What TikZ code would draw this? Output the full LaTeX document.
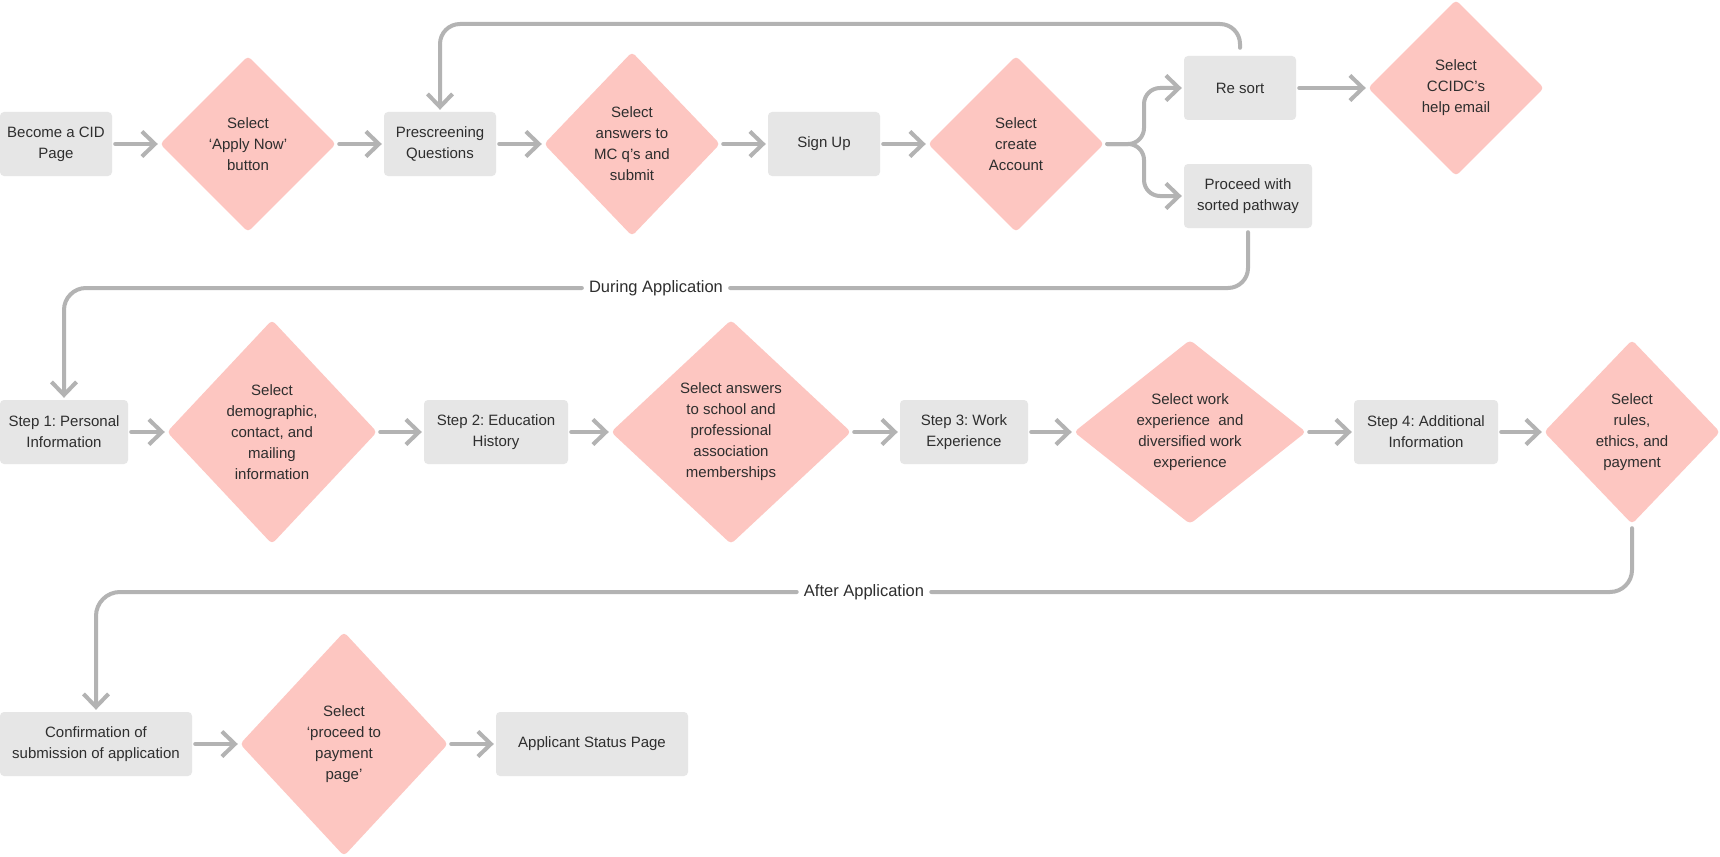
\documentclass[tikz,border=0pt]{standalone}
\usepackage{fontspec}
\setmainfont{Liberation Sans}
\usetikzlibrary{shapes.geometric,arrows.meta,calc}
\definecolor{boxgray}{HTML}{E6E6E6}
\definecolor{pinkd}{HTML}{FDC6C1}
\definecolor{lineg}{HTML}{B3B3B3}
\definecolor{txt}{HTML}{2E2E2E}
\frenchspacing
\begin{document}
\begin{tikzpicture}[x=1pt,y=-1pt,
  every node/.style={text=txt, font=\fontsize{15}{21}\selectfont},
  pbox/.style={rectangle, rounded corners=4pt, fill=boxgray, minimum height=64pt, inner sep=0pt, align=center},
  pdia/.style={diamond, rounded corners=4pt, fill=pinkd, inner sep=0pt, align=center},
  arr/.style={draw=lineg, line width=4pt, line cap=round, line join=round, -{Straight Barb[length=13pt,width=25pt]}, shorten <=3pt, shorten >=2pt},
  conn/.style={draw=lineg, line width=4pt, line cap=round, line join=round},
  lbl/.style={fill=white, inner xsep=7pt, inner ysep=3pt, font=\fontsize{16.5}{20}\selectfont}]
\fill[white] (0,0) rectangle (1720,856);
\useasboundingbox (0,0) rectangle (1720,856);

% Row 1
\node[pbox, minimum width=112pt] (become) at (56,144) {Become a CID\\Page};
\node[pdia, minimum width=176pt, minimum height=176pt] (apply) at (248,144) {Select\\‘Apply Now’\\button};
\node[pbox, minimum width=112pt] (prescreen) at (440,144) {Prescreening\\Questions};
\node[pdia, minimum width=176pt, minimum height=184pt] (mc) at (632,144) {Select\\answers to\\MC q’s and\\submit};
\node[pbox, minimum width=112pt] (signup) at (824,144) {Sign Up};
\node[pdia, minimum width=176pt, minimum height=176pt] (create) at (1016,144) {Select\\create\\Account};
\node[pbox, minimum width=112pt] (resort) at (1240,88) {Re sort};
\node[pdia, minimum width=176pt, minimum height=176pt] (ccidc) at (1456,88) {Select\\CCIDC’s\\help email};
\node[pbox, minimum width=128pt] (proceed) at (1248,196) {Proceed with\\sorted pathway};

% Row 2
\node[pbox, minimum width=128pt] (step1) at (64,432) {Step 1: Personal\\Information};
\node[pdia, minimum width=210pt, minimum height=224pt] (demo) at (272,432) {Select\\demographic,\\contact, and\\mailing\\information};
\node[pbox, minimum width=144pt] (step2) at (496,432) {Step 2: Education\\History};
\node[pdia, minimum width=240pt, minimum height=224pt] (school) at (731,432) {Select answers\\to school and\\professional\\association\\memberships};
\node[pbox, minimum width=128pt] (step3) at (964,432) {Step 3: Work\\Experience};
\node[pdia, minimum width=232pt, minimum height=184pt] (work) at (1190,432) {Select work\\experience \ and\\diversified work\\experience};
\node[pbox, minimum width=144pt] (step4) at (1426,432) {Step 4: Additional\\Information};
\node[pdia, minimum width=176pt, minimum height=184pt] (rules) at (1632,432) {Select\\rules,\\ethics, and\\payment};

% Row 3
\node[pbox, minimum width=192pt] (confirm) at (96,744) {Confirmation of\\submission of application};
\node[pdia, minimum width=208pt, minimum height=224pt] (pay) at (344,744) {Select\\‘proceed to\\payment\\page’};
\node[pbox, minimum width=192pt] (status) at (592,744) {Applicant Status Page};

% Row 1 arrows
\draw[arr] (become) -- (apply);
\draw[arr] (apply) -- (prescreen);
\draw[arr] (prescreen) -- (mc);
\draw[arr] (mc) -- (signup);
\draw[arr] (signup) -- (create);
\draw[arr] (resort) -- (ccidc);
\coordinate (split) at (1144,144);
\draw[arr, rounded corners=16pt] (create.east) -- (split) |- (resort.west);
\draw[arr, rounded corners=16pt] (create.east) -- (split) |- (proceed.west);
\coordinate (looptop) at (440,24);
\draw[arr, rounded corners=20pt] ($(resort.north)+(0,-5)$) |- (looptop) -- (prescreen.north);

% During Application
\node[lbl] (during) at (656,288) {During Application};
\draw[conn, rounded corners=20pt] ($(proceed.south)+(0,4)$) |- (during.east);
\draw[arr, shorten <=0pt, rounded corners=22pt] (during.west) -| (step1.north);

% Row 2 arrows
\draw[arr] (step1) -- (demo);
\draw[arr] (demo) -- (step2);
\draw[arr] (step2) -- (school);
\draw[arr] (school) -- (step3);
\draw[arr] (step3) -- (work);
\draw[arr] (work) -- (step4);
\draw[arr] (step4) -- (rules);

% After Application
\node[lbl] (after) at (864,592) {After Application};
\draw[conn, rounded corners=22pt] ($(rules.south)+(0,4)$) |- (after.east);
\draw[arr, shorten <=0pt, rounded corners=24pt] (after.west) -| (confirm.north);

% Row 3 arrows
\draw[arr] (confirm) -- (pay);
\draw[arr] (pay) -- (status);
\end{tikzpicture}
\end{document}
